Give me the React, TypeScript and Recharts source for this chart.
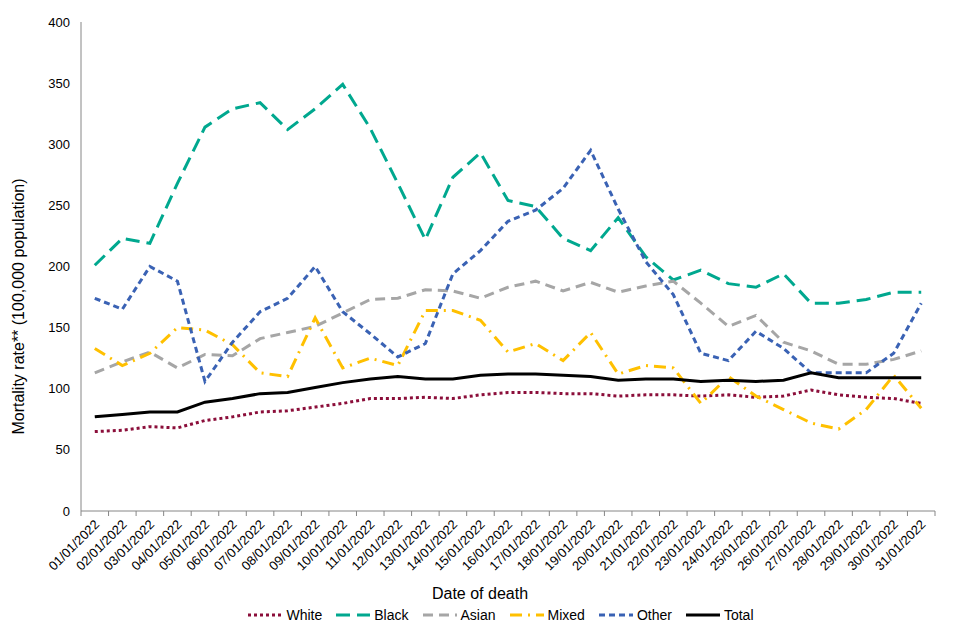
import React from "react";
import { LineChart, Line, XAxis, YAxis, Legend, Label } from "recharts";

const dates = [
  "01/01/2022", "02/01/2022", "03/01/2022", "04/01/2022", "05/01/2022", "06/01/2022",
  "07/01/2022", "08/01/2022", "09/01/2022", "10/01/2022", "11/01/2022", "12/01/2022",
  "13/01/2022", "14/01/2022", "15/01/2022", "16/01/2022", "17/01/2022", "18/01/2022",
  "19/01/2022", "20/01/2022", "21/01/2022", "22/01/2022", "23/01/2022", "24/01/2022",
  "25/01/2022", "26/01/2022", "27/01/2022", "28/01/2022", "29/01/2022", "30/01/2022",
  "31/01/2022",
];

const white = [65, 66, 69, 68, 74, 77, 81, 82, 85, 88, 92, 92, 93, 92, 95, 97, 97, 96, 96, 94, 95, 95, 94, 95, 93, 94, 99, 95, 93, 92, 88];
const black = [201, 223, 219, 268, 314, 329, 334, 312, 329, 349, 313, 268, 222, 273, 293, 254, 249, 223, 213, 240, 208, 189, 197, 186, 183, 194, 170, 170, 173, 179, 179];
const asian = [113, 122, 130, 117, 128, 127, 141, 146, 151, 162, 173, 174, 181, 180, 174, 183, 188, 180, 187, 179, 184, 188, 170, 151, 160, 138, 131, 120, 120, 124, 131];
const mixed = [133, 119, 129, 150, 148, 136, 113, 110, 158, 117, 125, 119, 164, 164, 156, 130, 137, 123, 146, 112, 119, 117, 88, 110, 94, 83, 72, 67, 83, 111, 84];
const other = [174, 165, 200, 188, 106, 138, 163, 174, 200, 163, 145, 126, 137, 194, 213, 237, 246, 264, 295, 247, 204, 177, 129, 123, 147, 133, 113, 113, 113, 129, 170];
const total = [77, 79, 81, 81, 89, 92, 96, 97, 101, 105, 108, 110, 108, 108, 111, 112, 112, 111, 110, 107, 108, 108, 106, 107, 106, 107, 113, 109, 109, 109, 109];

const yTicks = [0, 50, 100, 150, 200, 250, 300, 350, 400];

const data = dates.map((d, i) => ({
  date: d,
  White: white[i],
  Black: black[i],
  Asian: asian[i],
  Mixed: mixed[i],
  Other: other[i],
  Total: total[i],
}));

const series = [
  { key: "White", color: "#8b0e3a", dash: "3 3" },
  { key: "Black", color: "#00a88f", dash: "14 7" },
  { key: "Asian", color: "#a6a6a6", dash: "10 6" },
  { key: "Mixed", color: "#ffc000", dash: "12 6 2 6" },
  { key: "Other", color: "#3a62b4", dash: "6 4" },
  { key: "Total", color: "#000000", dash: undefined },
];

const W = 952;
const H = 624;
const M = { top: 14, right: 25, left: 0, bottom: 7 };
const Y_W = 73;
const PLOT_W = W - M.left - M.right - Y_W;
const BAND = PLOT_W / dates.length;
const FONT = "'Liberation Sans', Arial, sans-serif";
const AXIS = "#868686";

// Excel style: ticks sit between categories, labels under the points
const DateTick = (props: any) => {
  const { x, y, payload } = props;
  const last = payload.value === dates[dates.length - 1];
  return (
    <g>
      <line x1={x - BAND / 2} x2={x - BAND / 2} y1={y} y2={y + 5} stroke={AXIS} />
      {last && <line x1={x + BAND / 2} x2={x + BAND / 2} y1={y} y2={y + 5} stroke={AXIS} />}
      <text
        transform={`translate(${x + 2},${y + 11}) rotate(-45)`}
        textAnchor="end"
        dy="0.35em"
        fontSize={13}
        fontFamily={FONT}
        fill="#000"
      >
        {payload.value}
      </text>
    </g>
  );
};

const LegendBox = () => (
  <div style={{ display: "flex", justifyContent: "center", alignItems: "center", height: 20, fontFamily: FONT, fontSize: 14 }}>
    {series.map((s) => (
      <div key={s.key} style={{ display: "flex", alignItems: "center", marginRight: 14 }}>
        <svg width={34} height={10} style={{ marginRight: 4 }}>
          <line x1={0} x2={34} y1={5} y2={5} stroke={s.color} strokeWidth={3} strokeDasharray={s.dash} />
        </svg>
        <span>{s.key}</span>
      </div>
    ))}
  </div>
);

export default function App() {
  return (
    <LineChart width={W} height={H} data={data} margin={M}>
      <XAxis
        dataKey="date"
        interval={0}
        tickLine={false}
        tickSize={0}
        tickMargin={0}
        height={94}
        stroke={AXIS}
        padding={{ left: BAND / 2, right: BAND / 2 }}
        tick={<DateTick />}
      >
        <Label
          content={(p: any) => (
            <text
              x={p.viewBox.x + p.viewBox.width / 2 - 28}
              y={p.viewBox.y + 82}
              textAnchor="middle"
              dominantBaseline="central"
              fontSize={16}
              fontFamily={FONT}
              fill="#000"
            >
              Date of death
            </text>
          )}
        />
      </XAxis>
      <YAxis
        width={Y_W}
        domain={[0, 400]}
        ticks={yTicks}
        interval={0}
        tickLine={false}
        tickSize={8}
        tickMargin={3}
        stroke={AXIS}
        tick={{ fill: "#000", fontSize: 13, fontFamily: FONT }}
      >
        <Label
          content={(p: any) => {
            const cx = p.viewBox.x + 10;
            const cy = p.viewBox.y + p.viewBox.height / 2 + 40;
            return (
              <text
                x={cx}
                y={cy}
                transform={`rotate(-90,${cx},${cy})`}
                textAnchor="middle"
                dominantBaseline="central"
                fontSize={16}
                fontFamily={FONT}
                fill="#000"
              >
                Mortality rate** (100,000 population)
              </text>
            );
          }}
        />
      </YAxis>
      <Legend
        verticalAlign="bottom"
        content={<LegendBox />}
        wrapperStyle={{ left: Y_W, width: PLOT_W }}
      />
      {series.map((s) => (
        <Line
          key={s.key}
          dataKey={s.key}
          stroke={s.color}
          strokeWidth={3}
          strokeDasharray={s.dash}
          dot={false}
          activeDot={false}
          isAnimationActive={false}
        />
      ))}
    </LineChart>
  );
}
